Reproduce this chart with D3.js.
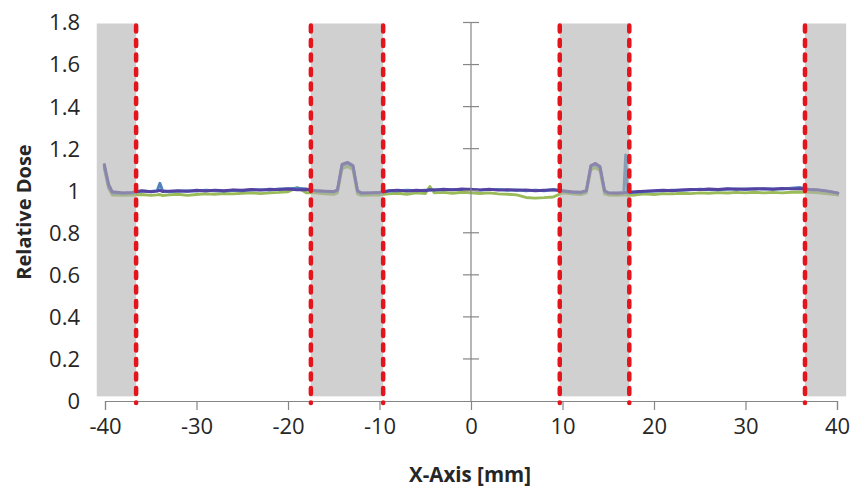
<!DOCTYPE html>
<html>
<head>
<meta charset="utf-8">
<script src="https://cdn.jsdelivr.net/npm/d3@7"></script>
<style>
  html, body { margin: 0; padding: 0; background: #fff; }
  svg { display: block; }
  text { font-family: "Open Sans", "DejaVu Sans", sans-serif; fill: #262626; }
</style>
</head>
<body>
<svg id="chart" width="855" height="495"></svg>
<script>
// Measurement positions across the profile (mm)
const positionsMm = [
  -40.1, -39.9, -39.6, -39.2, -38, -37, -36, -35, -34.3, -34, -33.7,
  -33, -32, -31, -30, -29, -28, -27, -26, -25, -24, -23, -22, -21, -20, -19, -18, -17, -16, -15,
  -14.6, -14.1, -13.5, -12.9, -12.4,
  -12, -11, -10, -9, -8, -7, -6, -5, -4.5,
  -4, -3, -2, -1, 0, 1, 2, 3, 4, 5, 6, 7, 8, 9, 10, 11, 12,
  12.6, 13.1, 13.6, 14.1, 14.6, 15, 16, 16.7, 16.9, 17.1,
  18, 19, 20, 21, 22, 23, 24, 25, 26, 27, 28, 29, 30, 31, 32, 33, 34, 35, 36, 37, 38, 39, 40, 40.2
];

// Relative dose readings, one array per profile
const doseBlue = [
  1.12, 1.08, 1.02, 0.99, 0.988, 0.99, 0.998, 0.997, 1.0, 1.035, 1.0,
  0.995, 0.998, 1.0, 0.998, 1.002, 1.0, 0.998, 1.002, 1.0, 1.004, 1.005, 1.003, 1.008, 1.01, 1.012, 1.008, 1.0, 0.996, 0.995,
  1.0, 1.12, 1.13, 1.115, 0.998,
  0.988, 0.99, 0.99, 0.998, 1.0, 1.002, 1.0, 1.003, 1.002,
  1.005, 1.004, 1.006, 1.005, 1.007, 1.003, 1.005, 1.006, 1.002, 1.004, 1.0, 1.003, 1.0, 1.006, 0.998, 0.993, 0.99,
  0.998, 1.115, 1.125, 1.11, 0.998, 0.99, 0.99, 0.992, 1.17, 0.995,
  0.993, 0.996, 0.998, 1.0, 1.003, 1.002, 1.004, 1.007, 1.005, 1.004, 1.007, 1.009, 1.006, 1.01, 1.008, 1.009, 1.008, 1.012, 1.015, 1.005, 1.003, 0.997, 0.99, 0.985
];

const dosePurple = [
  1.13, 1.09, 1.03, 0.995, 0.99, 0.992, 1.0, 0.995, 0.998, 1.002, 0.996,
  0.998, 1.0, 0.997, 1.002, 0.999, 1.003, 1.0, 1.004, 1.002, 1.006, 1.003, 1.007, 1.005, 1.008, 1.004, 1.006, 1.0, 0.998, 0.996,
  1.005, 1.125, 1.135, 1.12, 1.0,
  0.99, 0.99, 0.992, 1.0, 1.003, 0.998, 1.002, 1.0, 1.005,
  1.003, 1.007, 1.004, 1.008, 1.006, 1.004, 1.007, 1.003, 1.005, 1.002, 1.004, 1.0, 1.002, 1.004, 1.0, 0.995, 0.993,
  1.0, 1.12, 1.13, 1.115, 1.0, 0.99, 0.988, 0.99, 0.992, 0.99,
  0.995, 0.998, 1.0, 1.002, 1.0, 1.004, 1.006, 1.005, 1.008, 1.006, 1.01, 1.007, 1.009, 1.008, 1.01, 1.007, 1.011, 1.009, 1.01, 1.006, 1.004, 0.998, 0.99, 0.985
];

const doseGreen = [
  1.11, 1.07, 1.01, 0.98, 0.978, 0.98, 0.982, 0.978, 0.98, 0.982, 0.977,
  0.98, 0.983, 0.978, 0.982, 0.985, 0.983, 0.987, 0.985, 0.988, 0.99, 0.986, 0.99, 0.992, 0.995, 1.015, 0.99, 0.99, 0.985, 0.983,
  0.99, 1.105, 1.115, 1.1, 0.985,
  0.978, 0.98, 0.98, 0.985, 0.988, 0.983, 0.99, 0.986, 1.02,
  0.99, 0.992, 0.988, 0.993, 0.99, 0.987, 0.99, 0.985, 0.983, 0.98, 0.968, 0.965, 0.967, 0.97, 0.99, 0.985, 0.982,
  0.99, 1.1, 1.11, 1.095, 0.985, 0.98, 0.978, 0.98, 0.98, 0.978,
  0.98, 0.985, 0.982, 0.986, 0.985, 0.988, 0.986, 0.99, 0.988, 0.991, 0.989, 0.992, 0.99, 0.993, 0.99, 0.992, 0.99, 0.993, 0.994, 0.993, 0.99, 0.985, 0.98, 0.978
];

// Shaded (out-of-field) bands and field-edge markers, in mm
const bandStarts = [-40.9, -17.5, 9.7, 36.5];
const bandEnds = [-36.6, -9.6, 17.3, 41.0];
const edgeMarkers = [-36.6, -17.5, -9.6, 9.7, 17.3, 36.5];

const xTicks = [-40, -30, -20, -10, 0, 10, 20, 30, 40];
const yTicks = [0, 0.2, 0.4, 0.6, 0.8, 1, 1.2, 1.4, 1.6, 1.8];

const svg = d3.select("#chart");

const x = d3.scaleLinear().domain([-40, 40]).range([105, 837]);
const y = d3.scaleLinear().domain([0, 1.8]).range([401, 22.5]);

const defs = svg.append("defs");
defs.append("filter").attr("id", "soft")
  .attr("x", "-5%").attr("y", "-50%").attr("width", "110%").attr("height", "200%")
  .append("feGaussianBlur").attr("stdDeviation", 0.55);

// Profiles
const series = [
  { values: doseGreen, color: "#9bbb59" },
  { values: doseBlue, color: "#4f81bd" },
  { values: dosePurple, color: "#5242a2" }
];

const line = d3.line()
  .x(d => x(d[0]))
  .y(d => y(d[1]));

const lineLayer = svg.append("g").attr("filter", "url(#soft)");
series.forEach(s => {
  lineLayer.append("path")
    .datum(positionsMm.map((p, i) => [p, s.values[i]]))
    .attr("fill", "none")
    .attr("stroke", s.color)
    .attr("stroke-width", 2.9)
    .attr("stroke-linejoin", "round")
    .attr("d", line);
});

// Translucent grey bands over the out-of-field regions
svg.append("g").selectAll("rect")
  .data(bandStarts.map((s, i) => [s, bandEnds[i]]))
  .join("rect")
  .attr("x", d => x(d[0]))
  .attr("width", d => x(d[1]) - x(d[0]))
  .attr("y", y(1.8) + 1)
  .attr("height", y(0.022) - y(1.8) - 1)
  .attr("fill", "#b0b0b0")
  .attr("fill-opacity", 0.6);

// X axis along y = 0
const xAxis = d3.axisBottom(x).tickValues(xTicks).tickSize(9).tickPadding(8)
  .tickFormat(d => String(d));
const gx = svg.append("g").attr("transform", `translate(0,${y(0)})`).call(xAxis);
gx.select(".domain").attr("stroke", "#868686").attr("stroke-width", 1.2);
gx.selectAll(".tick line").attr("stroke", "#868686").attr("stroke-width", 1.2);
gx.selectAll(".tick text")
  .attr("font-size", 22).attr("fill", "#262626")
  .style("font-family", '"Open Sans", sans-serif');

// Y axis line crossing at x = 0, with cross tick marks
const gy = svg.append("g");
gy.append("line")
  .attr("x1", x(0)).attr("x2", x(0))
  .attr("y1", y(1.8)).attr("y2", y(0))
  .attr("stroke", "#868686").attr("stroke-width", 1.2);
gy.selectAll("line.tick")
  .data(yTicks.filter(t => t > 0))
  .join("line")
  .attr("class", "tick")
  .attr("x1", x(0) - 8).attr("x2", x(0) + 8)
  .attr("y1", d => y(d)).attr("y2", d => y(d))
  .attr("stroke", "#868686").attr("stroke-width", 1.2);

// Y tick labels at the left edge
svg.append("g").selectAll("text")
  .data(yTicks)
  .join("text")
  .attr("x", 80)
  .attr("y", d => y(d))
  .attr("dy", "0.36em")
  .attr("text-anchor", "end")
  .attr("font-size", 22)
  .text(d => d === 0 ? "0" : String(+d.toFixed(1)));

// Field-edge markers
svg.append("g").selectAll("line")
  .data(edgeMarkers)
  .join("line")
  .attr("x1", d => x(d)).attr("x2", d => x(d))
  .attr("y1", y(1.8) + 3).attr("y2", y(0) + 2)
  .attr("stroke", "#e3141b")
  .attr("stroke-width", 4.5)
  .attr("stroke-linecap", "round")
  .attr("stroke-dasharray", "6,8.5");

// Axis titles
svg.append("text")
  .attr("x", 470).attr("y", 482)
  .attr("text-anchor", "middle")
  .attr("font-size", 20.5).attr("font-weight", "bold")
  .text("X-Axis [mm]");

svg.append("text")
  .attr("transform", "translate(31,212) rotate(-90)")
  .attr("text-anchor", "middle")
  .attr("font-size", 20).attr("font-weight", "bold")
  .text("Relative Dose");
</script>
</body>
</html>
